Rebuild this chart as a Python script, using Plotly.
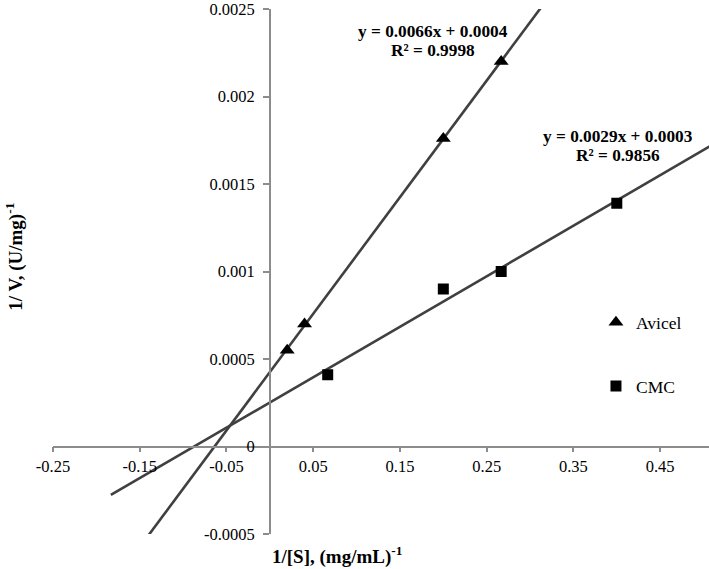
import numpy as np
import plotly.graph_objects as go

# Data
avicel_x = [0.02, 0.04, 0.2, 0.2667]
avicel_y = [0.00055, 0.0007, 0.00176, 0.0022]
cmc_x = [0.0667, 0.2, 0.2667, 0.4]
cmc_y = [0.00041, 0.0009, 0.001, 0.00139]

x_ticks = [-0.25, -0.15, -0.05, 0.05, 0.15, 0.25, 0.35, 0.45]
x_tick_labels = ["-0.25", "-0.15", "-0.05", "0.05", "0.15", "0.25", "0.35", "0.45"]
y_ticks = [-0.0005, 0, 0.0005, 0.001, 0.0015, 0.002, 0.0025]
y_tick_labels = ["-0.0005", "0", "0.0005", "0.001", "0.0015", "0.002", "0.0025"]

eq_avicel = ["y = 0.0066x + 0.0004", "R² = 0.9998"]
eq_cmc = ["y = 0.0029x + 0.0003", "R² = 0.9856"]

X_RANGE = [-0.25, 0.5063]
Y_RANGE = [-0.0005, 0.0025]
BACKWARD = 0.25
FONT = "Liberation Serif"
LINE_COLOR = "#404040"
AXIS_COLOR = "#8c8c8c"


def trend(xs, ys):
    m, b = np.polyfit(xs, ys, 1)
    tx = np.array([min(xs) - BACKWARD, 0.6])
    return tx, m * tx + b


fig = go.Figure()

for xs, ys in [(avicel_x, avicel_y), (cmc_x, cmc_y)]:
    tx, ty = trend(xs, ys)
    fig.add_trace(go.Scatter(x=tx, y=ty, mode="lines", showlegend=False,
                             line=dict(color=LINE_COLOR, width=2.6), hoverinfo="skip"))

fig.add_trace(go.Scatter(x=avicel_x, y=avicel_y, mode="markers", name="Avicel",
                         legendgroup="a",
                         marker=dict(symbol="triangle-up", size=13, color="black")))
fig.add_trace(go.Scatter(x=cmc_x, y=cmc_y, mode="markers", name="CMC",
                         legendgroup="c",
                         marker=dict(symbol="square", size=11, color="black")))

# x=0 position within plot area (paper coords)
x0_frac = (0 - X_RANGE[0]) / (X_RANGE[1] - X_RANGE[0])
y0_frac = (0 - Y_RANGE[0]) / (Y_RANGE[1] - Y_RANGE[0])

fig.update_layout(
    width=709, height=569,
    margin=dict(l=53, r=0, t=6, b=35),
    plot_bgcolor="white", paper_bgcolor="white",
    font=dict(family=FONT, size=16.5, color="black"),
    xaxis=dict(range=X_RANGE, tickvals=x_ticks, ticktext=x_tick_labels,
               anchor="free", position=y0_frac, showline=True, linecolor=AXIS_COLOR,
               linewidth=1.5, ticks="outside", ticklen=5, tickcolor=AXIS_COLOR,
               tickwidth=1.5, showgrid=False, zeroline=False, ticklabeloverflow="allow",
               tickfont=dict(family=FONT, size=16.5, color="black")),
    yaxis=dict(range=Y_RANGE, tickvals=y_ticks, ticktext=y_tick_labels,
               anchor="free", position=x0_frac, showline=True, linecolor=AXIS_COLOR,
               linewidth=1.5, ticks="outside", ticklen=6, tickcolor=AXIS_COLOR,
               tickwidth=1.5, showgrid=False, zeroline=False, ticklabeloverflow="allow",
               ticklabelstandoff=5,
               tickfont=dict(family=FONT, size=16.5, color="black")),
    legend=dict(x=0.8277, y=0.4375, xanchor="left", yanchor="top",
                font=dict(family=FONT, size=17.5, color="black"),
                traceorder="grouped", tracegroupgap=38,
                bgcolor="rgba(0,0,0,0)"),
)

ann = []
for lines, cx, ys in [(eq_avicel, 0.1884, [0.002372, 0.002262]),
                      (eq_cmc, 0.4017, [0.001772, 0.001662])]:
    for txt, yy in zip(lines, ys):
        ann.append(dict(x=cx, y=yy, xref="x", yref="y", text="<b>" + txt + "</b>",
                        showarrow=False, xanchor="center", yanchor="middle",
                        font=dict(family=FONT, size=17.3, color="black")))

ann.append(dict(x=x0_frac, y=-0.0417, xref="paper", yref="paper",
                text="<b>1/[S], (mg/mL)<sup>-1</sup></b>", showarrow=False,
                xanchor="left", yanchor="middle",
                font=dict(family=FONT, size=19, color="black")))
ann.append(dict(x=-0.058, y=0.528, xref="paper", yref="paper",
                text="<b>1/ V, (U/mg)<sup>-1</sup></b>", showarrow=False, textangle=-90,
                xanchor="center", yanchor="middle",
                font=dict(family=FONT, size=19, color="black")))
fig.update_layout(annotations=ann)

fig.write_html("out.html", config={"displayModeBar": False},
               post_script="document.body.style.margin='0';document.body.style.overflow='hidden';")
